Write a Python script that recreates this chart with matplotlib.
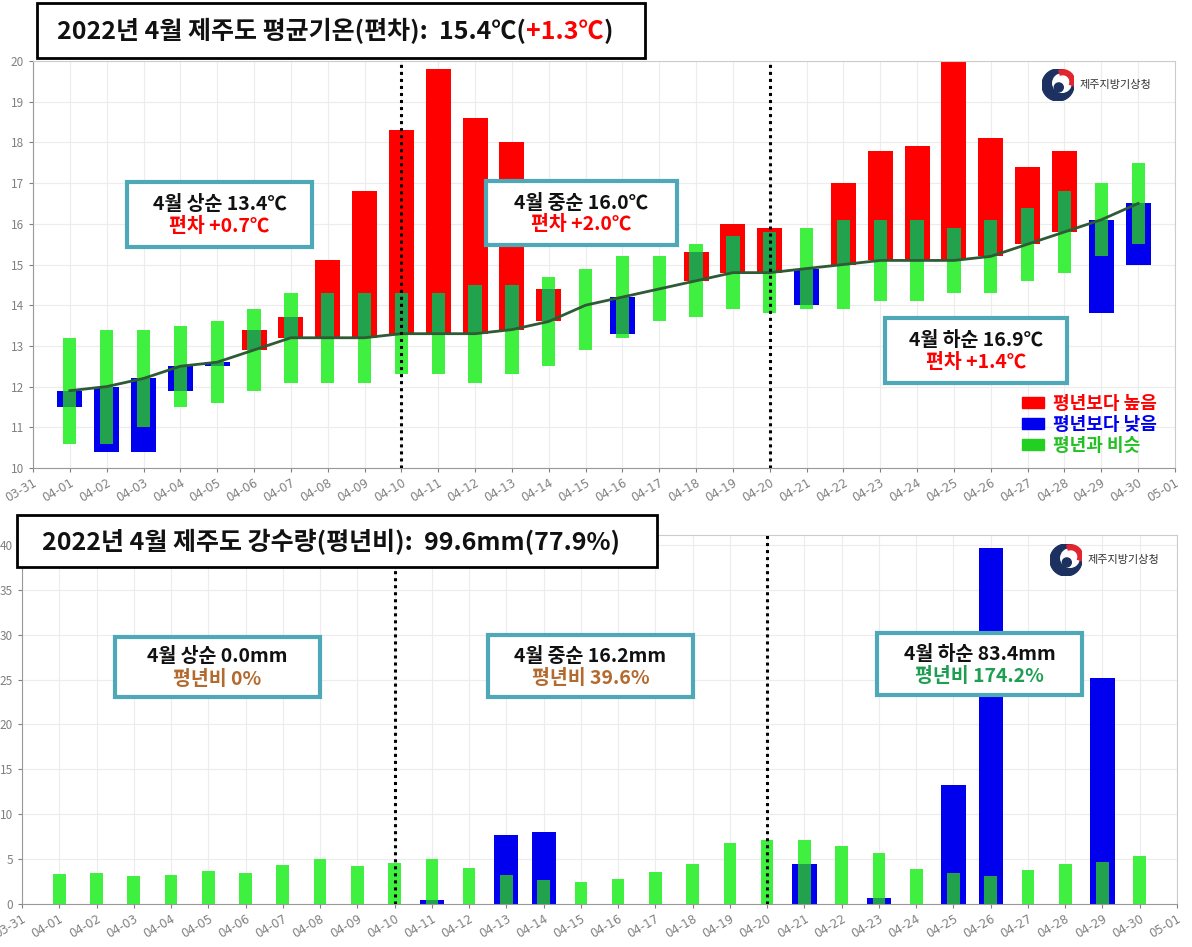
import numpy as np
import matplotlib
matplotlib.use('Agg')
import matplotlib.pyplot as plt
from matplotlib.patches import Rectangle, Patch, Circle, Wedge
from matplotlib.text import Annotation

plt.rcParams['font.family'] = ['Noto Sans CJK KR', 'DejaVu Sans']

W, H = 1192, 947

# 날짜 (03-31 ~ 05-01), 자료는 04-01 ~ 04-30
tick_labels = ['03-31'] + [f'04-{d:02d}' for d in range(1, 31)] + ['05-01']
days = np.arange(1, 31)

# 기온 (℃)
normal_temp = [11.9, 12.0, 12.2, 12.5, 12.6, 12.9, 13.2, 13.2, 13.2, 13.3,
               13.3, 13.3, 13.4, 13.6, 14.0, 14.2, 14.4, 14.6, 14.8, 14.8,
               14.9, 15.0, 15.1, 15.1, 15.1, 15.2, 15.5, 15.8, 16.1, 16.5]
mean_temp = [11.5, 10.4, 10.4, 11.9, 12.5, 13.4, 13.7, 15.1, 16.8, 18.3,
             19.8, 18.6, 18.0, 14.4, 14.0, 13.3, 14.4, 15.3, 16.0, 15.9,
             14.0, 17.0, 17.8, 17.9, 20.0, 18.1, 17.4, 17.8, 13.8, 15.0]
similar_lo = [10.6, 10.6, 11.0, 11.5, 11.6, 11.9, 12.1, 12.1, 12.1, 12.3,
              12.3, 12.1, 12.3, 12.5, 12.9, 13.2, 13.6, 13.7, 13.9, 13.8,
              13.9, 13.9, 14.1, 14.1, 14.3, 14.3, 14.6, 14.8, 15.2, 15.5]
similar_hi = [13.2, 13.4, 13.4, 13.5, 13.6, 13.9, 14.3, 14.3, 14.3, 14.3,
              14.3, 14.5, 14.5, 14.7, 14.9, 15.2, 15.2, 15.5, 15.7, 15.8,
              15.9, 16.1, 16.1, 16.1, 15.9, 16.1, 16.4, 16.8, 17.0, 17.5]

# 강수량 (mm)
rain = [0, 0, 0, 0, 0, 0, 0, 0, 0, 0,
        0.5, 0, 7.7, 8.0, 0, 0, 0, 0, 0, 0,
        4.5, 0, 0.7, 0, 13.3, 39.7, 0, 0, 25.2, 0]
normal_rain = [3.3, 3.5, 3.1, 3.2, 3.7, 3.5, 4.3, 5.0, 4.2, 4.6,
               5.0, 4.0, 3.2, 2.7, 2.5, 2.8, 3.6, 4.5, 6.8, 7.1,
               7.1, 6.5, 5.7, 3.9, 3.5, 3.1, 3.8, 4.5, 4.7, 5.3]

RED = '#ff0000'
BLUE = '#0000ee'
LGREEN = '#40f040'
DGREEN = '#22a24c'
TEAL = '#4fa8b8'
GRAY = '#808080'
TITLE_SIZE = 18


def fx(px):
    return px / W


def fy(py):
    return 1 - py / H


def style_axes(ax, yticks, ylim):
    ax.set_xlim(0, 31)
    ax.set_ylim(*ylim)
    ax.set_yticks(yticks)
    ax.set_xticks(range(32))
    ax.set_xticklabels(tick_labels, rotation=30, ha='right', rotation_mode='anchor',
                       family=['Liberation Sans Narrow', 'DejaVu Sans'])
    ax.tick_params(axis='both', colors=GRAY, labelsize=8.5, length=3, width=0.8)
    ax.tick_params(axis='x', pad=3)
    ax.grid(color='#ececec', lw=0.8)
    ax.set_axisbelow(True)
    for s in ax.spines.values():
        s.set_color('#cccccc')
    ax.spines['left'].set_color('#999999')
    ax.spines['bottom'].set_color('#999999')
    for d in (10, 20):
        ax.axvline(d, color='black', ls=(0, (1, 1.3)), lw=2.2, zorder=5)


def box(x0, y0, x1, y1, lw, ec):
    fig.add_artist(Rectangle((fx(x0), fy(y1)), fx(x1) - fx(x0), fy(y0) - fy(y1),
                             transform=fig.transFigure, facecolor='white',
                             edgecolor=ec, lw=lw, zorder=5))


def note(x0, y0, x1, y1, line1, line2, color2):
    box(x0, y0, x1, y1, 3, TEAL)
    cx = fx((x0 + x1) / 2)
    cy = (y0 + y1) / 2
    fig.text(cx, fy(cy - 10), line1, ha='center', va='center', fontsize=14,
             weight='bold', color='#111111', zorder=6)
    fig.text(cx, fy(cy + 12), line2, ha='center', va='center', fontsize=14,
             weight='bold', color=color2, zorder=6)


def logo(cx, cy):
    r = 16
    la = fig.add_axes([fx(cx - r), fy(cy + r), 2 * r / W, 2 * r / H], zorder=7)
    la.set_xlim(-1, 1)
    la.set_ylim(-1, 1)
    la.axis('off')
    la.add_patch(Circle((0, 0), 1, color='#1c3160'))
    la.add_patch(Circle((0.25, 0.12), 0.58, color='white'))
    la.add_patch(Wedge((0.3, 0.2), 0.75, -20, 110, width=0.3, color='#e0262e'))
    la.add_patch(Circle((0.05, -0.15), 0.28, color='#1c3160'))
    fig.text(fx(cx + 22), fy(cy), '제주지방기상청', fontsize=8, color='#333333',
             va='center', ha='left', zorder=7)


def chain(prev, s, color):
    a = Annotation(s, xy=(1, 0), xycoords=prev, va='bottom', ha='left',
                   fontsize=TITLE_SIZE, weight='bold', color=color, zorder=6)
    fig.add_artist(a)
    return a


fig = plt.figure(figsize=(W / 100, H / 100), dpi=100)

# ---------------- 평균기온 ----------------
ax1 = fig.add_axes([fx(33), fy(468), 1142 / W, 407 / H])
normal = np.array(normal_temp)
mean = np.array(mean_temp)
lo = np.array(similar_lo)
hi = np.array(similar_hi)
bar_lo = np.minimum(normal, mean)
bar_hi = np.maximum(normal, mean)
colors = [RED if m > n else BLUE for m, n in zip(mean, normal)]
ax1.bar(days, bar_hi - bar_lo, bottom=bar_lo, width=0.68, color=colors, lw=0, zorder=2)
ax1.bar(days, hi - lo, bottom=lo, width=0.36, color=LGREEN, lw=0, zorder=3)
ov_lo = np.maximum(bar_lo, lo)
ov_hi = np.minimum(bar_hi, hi)
ax1.bar(days, np.clip(ov_hi - ov_lo, 0, None), bottom=ov_lo, width=0.36,
        color=DGREEN, lw=0, zorder=3)
ax1.plot(days, normal, color='#2e5a36', lw=2, zorder=4)
style_axes(ax1, range(10, 21), (10, 20))

handles = [Patch(color=RED), Patch(color=BLUE), Patch(color='#22d022')]
leg = ax1.legend(handles, ['평년보다 높음', '평년보다 낮음', '평년과 비슷'],
                 loc='lower right', bbox_to_anchor=(0.992, 0.01), frameon=False,
                 handlelength=1.2, handleheight=0.55, labelspacing=0.1,
                 handletextpad=0.5, borderpad=0, prop={'size': 13, 'weight': 'bold'})
for t, c in zip(leg.get_texts(), [RED, BLUE, '#22c022']):
    t.set_color(c)

# ---------------- 강수량 ----------------
ax2 = fig.add_axes([fx(22), fy(904), 1155 / W, 369 / H])
rain_a = np.array(rain)
nrain = np.array(normal_rain)
ax2.bar(days, rain_a, width=0.65, color=BLUE, lw=0, zorder=2)
ax2.bar(days, nrain, width=0.34, color=LGREEN, lw=0, zorder=3)
ax2.bar(days, np.minimum(rain_a, nrain), width=0.34, color=DGREEN, lw=0, zorder=3)
style_axes(ax2, range(0, 41, 5), (0, 41.1))

# ---------------- 제목 ----------------
box(37, 3, 645, 58, 2, 'black')
t1 = fig.text(fx(57), fy(31), '2022년 4월 제주도 평균기온(편차):  15.4℃(', fontsize=TITLE_SIZE,
              weight='bold', color='#111111', va='center', ha='left', zorder=6)
t2 = chain(t1, '+1.3℃', RED)
chain(t2, ')', '#111111')

box(17, 515, 657, 567, 2, 'black')
fig.text(fx(42), fy(542), '2022년 4월 제주도 강수량(평년비):  99.6mm(77.9%)', fontsize=TITLE_SIZE,
         weight='bold', color='#111111', va='center', ha='left', zorder=6)

# ---------------- 요약 상자 ----------------
note(127, 182, 312, 247, '4월 상순 13.4℃', '편차 +0.7℃', RED)
note(486, 181, 677, 245, '4월 중순 16.0℃', '편차 +2.0℃', RED)
note(885, 318, 1067, 383, '4월 하순 16.9℃', '편차 +1.4℃', RED)

BROWN = '#b36a2e'
note(115, 637, 320, 697, '4월 상순 0.0mm', '평년비 0%', BROWN)
note(488, 635, 693, 697, '4월 중순 16.2mm', '평년비 39.6%', BROWN)
note(877, 633, 1082, 695, '4월 하순 83.4mm', '평년비 174.2%', '#1f9e52')

logo(1058, 85)
logo(1066, 560)

fig.savefig('out.png', dpi=100)
